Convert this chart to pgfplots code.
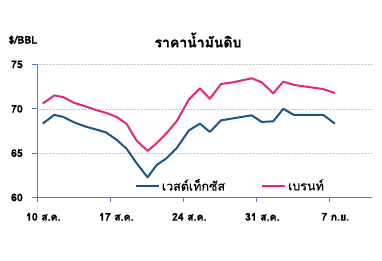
\documentclass[border=0pt]{standalone}
\usepackage{fontspec}
\setmainfont[Script=Thai, BoldFeatures={FakeBold=1}]{Loma}
\newfontfamily\legfont[Script=Thai, FakeBold=0.6]{Loma}
\usepackage{pgfplots}
\pgfplotsset{compat=1.18}
\definecolor{wti}{RGB}{26,84,138}
\definecolor{brent}{RGB}{228,38,128}
\definecolor{axcol}{RGB}{84,128,178}
\begin{document}
\begin{tikzpicture}[x=1pt,y=1pt]
\path[use as bounding box] (0,0) rectangle (382,261);
\begin{axis}[
  at={(37.3pt,63.5pt)}, anchor=origin,
  scale only axis, width=334.7pt, height=133pt,
  xmin=10, xmax=42.1, ymin=60, ymax=75,
  axis x line*=bottom, axis y line*=left,
  axis line style={axcol, line width=0.8pt},
  every tick/.style={axcol, line width=0.8pt},
  tick align=outside, major tick length=5pt,
  xtick={10,17,24,31,38},
  xticklabels={\bfseries 10 ส.ค., \bfseries 17 ส.ค., \bfseries 24 ส.ค., \bfseries 31 ส.ค., \bfseries 7 ก.ย.},
  ytick={60,65,70,75},
  yticklabels={\bfseries 60,\bfseries 65,\bfseries 70,\bfseries 75},
  ymajorgrids, major grid style={densely dotted, gray!40, line width=0.6pt},
  tick label style={font=\fontsize{10.5}{12}\selectfont\bfseries, black},
  xticklabel style={yshift=-7pt, xshift=6pt},
  yticklabel style={xshift=-6pt},
  clip=false,
  legend style={at={(0.282,0.089)}, anchor=west, draw=none, fill=none,
    font=\fontsize{12.5}{13}\selectfont\legfont, legend columns=2,
    /tikz/every even column/.append style={column sep=34pt}},
  legend image code/.code={\draw[#1, line width=2pt] (0pt,0pt) -- (23pt,0pt);},
]
\addplot[wti, line width=2pt, line join=round] coordinates {
(10.52,68.33) (11.63,69.32) (12.49,69.09) (13.52,68.48) (14.57,68.02)
(15.69,67.65) (16.59,67.34) (17.61,66.51) (18.57,65.49) (19.53,63.86)
(20.58,62.27) (21.45,63.67) (22.40,64.43) (23.37,65.57) (24.54,67.57)
(25.60,68.33) (26.55,67.39) (27.62,68.70) (28.80,68.93) (30.56,69.27)
(31.52,68.52) (32.63,68.59) (33.59,70.00) (34.60,69.32) (37.42,69.32)
(38.54,68.33)};
\addlegendentry{เวสต์เท็กซัส}
\addplot[brent, line width=2pt, line join=round] coordinates {
(10.52,70.60) (11.63,71.51) (12.49,71.32) (13.52,70.68) (14.57,70.30)
(15.69,69.84) (16.59,69.55) (17.61,69.09) (18.57,68.30) (19.53,66.40)
(20.58,65.26) (21.45,66.13) (22.40,67.27) (23.37,68.60) (24.54,71.06)
(25.60,72.30) (26.55,71.14) (27.62,72.80) (28.80,73.00) (30.56,73.44)
(31.52,73.00) (32.63,71.74) (33.59,73.07) (34.60,72.70) (37.42,72.23)
(38.54,71.77)};
\addlegendentry{เบรนท์}
\end{axis}
\node[font=\fontsize{14}{15}\selectfont\bfseries] at (198,221) {ราคาน้ำมันดิบ};
\node[font=\fontsize{10.5}{12}\selectfont\bfseries, anchor=west] at (5,221) {\$/BBL};
\end{tikzpicture}
\end{document}
